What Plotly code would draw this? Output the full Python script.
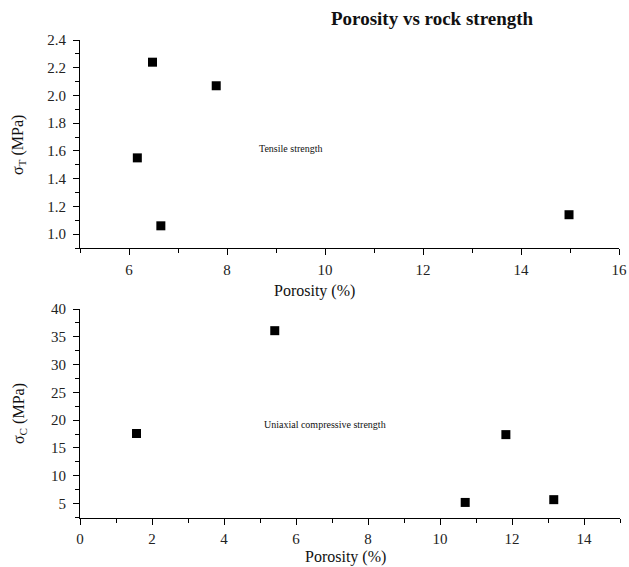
import plotly.graph_objects as go
from plotly.subplots import make_subplots

# Tensile strength vs porosity
tensile_porosity = [6.48, 7.78, 6.17, 6.65, 14.98]
tensile_strength = [2.24, 2.07, 1.55, 1.06, 1.14]

# Uniaxial compressive strength vs porosity
ucs_porosity = [1.57, 5.41, 10.70, 11.83, 13.16]
ucs_strength = [17.6, 36.1, 5.2, 17.4, 5.7]

title_text = "Porosity vs rock strength"
x_title = "Porosity (%)"
y_title_top = "σ<sub>T</sub> (MPa)"
y_title_bottom = "σ<sub>C</sub> (MPa)"
label_top = "Tensile strength"
label_bottom = "Uniaxial compressive strength"

W, H = 629, 567
FONT = "Liberation Serif, Times New Roman, serif"


def px(x):
    return x / W


def py(y):
    return 1 - y / H


fig = make_subplots(rows=2, cols=1)

marker = dict(symbol="square", size=9, color="black")
fig.add_trace(go.Scatter(x=tensile_porosity, y=tensile_strength, mode="markers",
                         marker=marker, showlegend=False), row=1, col=1)
fig.add_trace(go.Scatter(x=ucs_porosity, y=ucs_strength, mode="markers",
                         marker=marker, showlegend=False), row=2, col=1)

axis_common = dict(
    showline=True, linecolor="black", linewidth=1, mirror=False,
    showgrid=False, zeroline=False, ticks="outside", ticklen=6,
    tickwidth=1, tickcolor="black", automargin=False,
    tickfont=dict(family=FONT, size=15, color="#222"),
)
minor_common = dict(ticks="outside", ticklen=4, tickwidth=1, tickcolor="black", showgrid=False)

fig.update_layout(
    width=W, height=H, autosize=False,
    margin=dict(l=0, r=0, t=0, b=0, pad=0, autoexpand=False),
    paper_bgcolor="white", plot_bgcolor="white",
    xaxis=dict(domain=[px(80), px(619)], range=[5, 16], tick0=0, dtick=2,
               ticklabelstandoff=2,
               minor=dict(dtick=1, **minor_common), **axis_common),
    yaxis=dict(domain=[py(248), py(40)], range=[0.9, 2.4], tick0=0, dtick=0.2,
               tickformat=".1f", ticklabelstandoff=4,
               minor=dict(dtick=0.1, **minor_common), **axis_common),
    xaxis2=dict(domain=[px(80), px(620)], range=[0, 15], tick0=0, dtick=2,
                ticklabelstandoff=1,
                minor=dict(dtick=1, **minor_common), **axis_common),
    yaxis2=dict(domain=[py(518), py(309)], range=[2.4, 40], tick0=0, dtick=5,
                ticklabelstandoff=4,
                minor=dict(dtick=2.5, **minor_common), **axis_common),
)

text_font = dict(family=FONT, color="#111")
annotations = [
    dict(text=f"<b>{title_text}</b>", x=px(432), y=py(18),
         font=dict(size=19, **text_font)),
    dict(text=x_title, x=px(315), y=py(291), font=dict(size=16, **text_font)),
    dict(text=x_title, x=px(345), y=py(557), font=dict(size=16, **text_font)),
    dict(text=y_title_top, x=px(19), y=py(145), textangle=-90,
         font=dict(size=16, **text_font)),
    dict(text=y_title_bottom, x=px(19), y=py(414), textangle=-90,
         font=dict(size=16, **text_font)),
]
for a in annotations:
    a.update(xref="paper", yref="paper", showarrow=False,
             xanchor="center", yanchor="middle")

annotations += [
    dict(text=label_top, x=9.3, y=1.62, xref="x", yref="y", showarrow=False,
         font=dict(size=10, **text_font)),
    dict(text=label_bottom, x=6.8, y=19.2, xref="x2", yref="y2", showarrow=False,
         font=dict(size=10, **text_font)),
]
fig.update_layout(annotations=annotations)

fig.write_html("out.html")
